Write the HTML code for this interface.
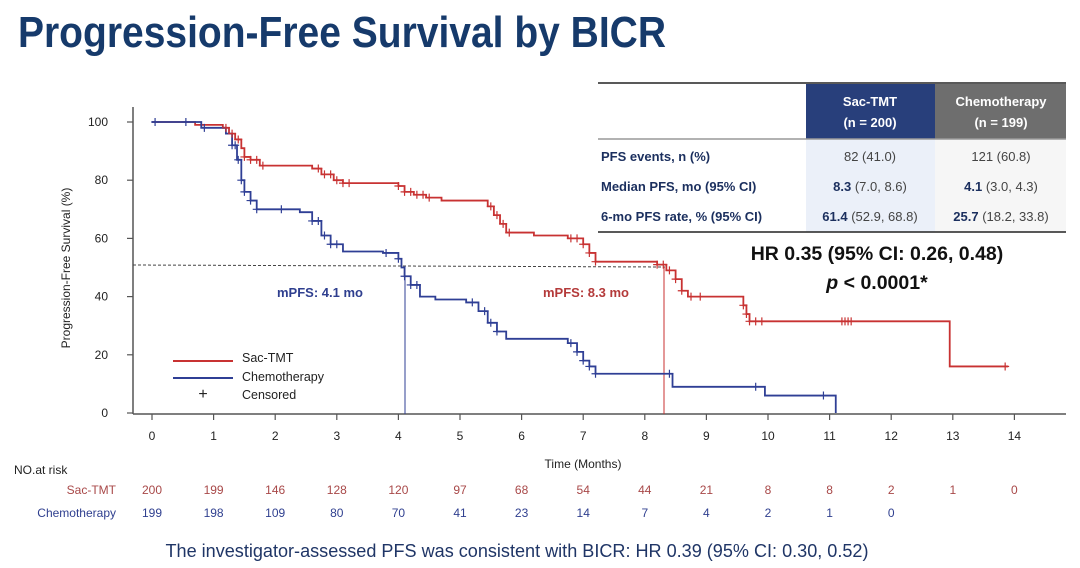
<!DOCTYPE html>
<html><head><meta charset="utf-8"><style>
body{margin:0;background:#fff;}
svg{display:block;font-family:"Liberation Sans",Arial,sans-serif;}
</style></head><body>
<svg id="s" width="1080" height="568" viewBox="0 0 1080 568">
<text x="18" y="47" font-size="44" font-weight="bold" fill="#163a6b" textLength="648" lengthAdjust="spacingAndGlyphs">Progression-Free Survival by BICR</text>

<rect x="806" y="84" width="129" height="55" fill="#283f7b"/>
<rect x="935" y="84" width="131" height="55" fill="#6e6e6e"/>
<rect x="806" y="139" width="129" height="93" fill="#ebf0f9"/>
<rect x="935" y="139" width="131" height="93" fill="#f6f6f6"/>
<line x1="598" y1="83" x2="1066" y2="83" stroke="#222" stroke-width="1.5"/>
<line x1="598" y1="139" x2="1066" y2="139" stroke="#999" stroke-width="1.5"/>
<line x1="598" y1="232" x2="1066" y2="232" stroke="#222" stroke-width="1.5"/>
<g font-size="13" font-weight="bold" fill="#fff" text-anchor="middle">
<text x="870" y="106">Sac-TMT</text><text x="870" y="127">(n = 200)</text>
<text x="1001" y="106">Chemotherapy</text><text x="1001" y="127">(n = 199)</text>
</g>
<g font-size="13" font-weight="bold" fill="#1b2f5e">
<text x="601" y="161">PFS events, n (%)</text>
<text x="601" y="191">Median PFS, mo (95% CI)</text>
<text x="601" y="221">6-mo PFS rate, %  (95% CI)</text>
</g>
<g font-size="13" fill="#444" text-anchor="middle">
<text x="870" y="161">82 (41.0)</text><text x="1001" y="161">121 (60.8)</text>
<text x="870" y="191"><tspan font-weight="bold" fill="#1b2f5e">8.3</tspan> (7.0, 8.6)</text>
<text x="1001" y="191"><tspan font-weight="bold" fill="#1b2f5e">4.1</tspan> (3.0, 4.3)</text>
<text x="870" y="221"><tspan font-weight="bold" fill="#1b2f5e">61.4</tspan> (52.9, 68.8)</text>
<text x="1001" y="221"><tspan font-weight="bold" fill="#1b2f5e">25.7</tspan> (18.2, 33.8)</text>
</g>
<g font-size="19.5" font-weight="bold" fill="#111" text-anchor="middle">
<text x="877" y="260">HR 0.35 (95% CI: 0.26, 0.48)</text>
<text x="877" y="289"><tspan font-style="italic">p</tspan> &lt; 0.0001*</text>
</g>

<g stroke="#555" stroke-width="1.5" fill="none">
<line x1="133" y1="107" x2="133" y2="414"/>
<line x1="133" y1="414" x2="1066" y2="414"/>
</g>
<g id="ticks" stroke="#555" stroke-width="1.2"></g>
<g id="tl" font-size="12" fill="#222"></g>
<text x="583" y="468" font-size="12" text-anchor="middle" fill="#222">Time (Months)</text>
<text transform="translate(70,268) rotate(-90)" font-size="12" text-anchor="middle" fill="#222">Progression-Free Survival (%)</text>

<line x1="133" y1="265" x2="665" y2="267" stroke="#444" stroke-dasharray="3,2" stroke-width="1"/>
<line x1="405" y1="266" x2="405" y2="414" stroke="#2f3f95" stroke-width="1"/>
<line x1="664" y1="267" x2="664" y2="414" stroke="#c83232" stroke-width="1"/>
<text x="277" y="297" font-size="13" font-weight="bold" fill="#2f3f8f">mPFS: 4.1 mo</text>
<text x="543" y="297" font-size="13" font-weight="bold" fill="#b43a3a">mPFS: 8.3 mo</text>

<g id="curves"></g>

<line x1="173" y1="361" x2="233" y2="361" stroke="#c83232" stroke-width="2"/>
<line x1="173" y1="378" x2="233" y2="378" stroke="#2f3f95" stroke-width="2"/>
<text x="203" y="399" font-size="16" text-anchor="middle" fill="#222">+</text>
<g font-size="12.5" fill="#222"><text x="242" y="362">Sac-TMT</text><text x="242" y="381">Chemotherapy</text><text x="242" y="399">Censored</text></g>

<text x="14" y="474" font-size="12" fill="#222">NO.at risk</text>
<text x="116" y="494" font-size="12" fill="#a84848" text-anchor="end">Sac-TMT</text>
<text x="116" y="517" font-size="12" fill="#2f3f8f" text-anchor="end">Chemotherapy</text>
<g id="risk" font-size="12" text-anchor="middle"></g>

<text x="517" y="557" font-size="18" text-anchor="middle" fill="#1f3566" textLength="703" lengthAdjust="spacingAndGlyphs">The investigator-assessed PFS was consistent with BICR: HR 0.39 (95% CI: 0.30, 0.52)</text>
</svg>
<script>
var NS="http://www.w3.org/2000/svg";
function X(t){return 152+t*61.6;} function Y(p){return 413-p*2.91;}
function el(n,a,p,txt){var e=document.createElementNS(NS,n);for(var k in a)e.setAttribute(k,a[k]);if(txt!=null)e.textContent=txt;p.appendChild(e);return e;}
var tk=document.getElementById('ticks'),tl=document.getElementById('tl');
for(var i=0;i<=14;i++){el('line',{x1:X(i),y1:414,x2:X(i),y2:420},tk);el('text',{x:X(i),y:440,'text-anchor':'middle'},tl,i);}
for(var p=0;p<=100;p+=20){el('line',{x1:127,y1:Y(p),x2:133,y2:Y(p)},tk);el('text',{x:108,y:Y(p)+4,'text-anchor':'end'},tl,p);}
var red=[[0,100],[0.7,99],[1.15,98],[1.25,96],[1.35,94],[1.45,91],[1.5,88],[1.6,87],[1.75,85],[2.6,84],[2.75,82],[2.95,80],[3.1,79],[4.0,78],[4.1,76],[4.25,75],[4.45,74],[4.7,73],[5.45,71],[5.55,68],[5.65,65],[5.75,62],[6.2,61],[6.75,60],[7.0,58],[7.1,55],[7.2,52],[8.2,51],[8.35,49],[8.5,46],[8.6,42],[8.7,40],[9.6,37],[9.65,34],[9.7,31.5],[12.95,16],[13.9,16]];
var blue=[[0,100],[0.8,98],[1.2,96],[1.3,92],[1.38,87],[1.45,80],[1.5,76],[1.6,73],[1.7,70],[2.4,69],[2.6,66],[2.75,61],[2.9,58],[3.1,55.5],[3.75,55],[4.0,53],[4.05,50],[4.1,47],[4.2,44],[4.35,40],[4.6,39],[5.1,38],[5.3,35],[5.45,31],[5.6,28],[5.75,25.5],[6.75,24],[6.9,21],[7.0,18],[7.1,16],[7.2,13.5],[8.45,9],[9.95,6],[11.1,0]];
function path(d,c){var s='M'+X(0)+','+Y(d[0][1]);for(var i=1;i<d.length;i++){s+='H'+X(d[i][0])+'V'+Y(d[i][1]);}
 el('path',{d:s,fill:'none',stroke:c,'stroke-width':1.8},document.getElementById('curves'));}
function val(d,t){var v=d[0][1];for(var i=0;i<d.length;i++)if(d[i][0]<=t)v=d[i][1];return v;}
function cens(d,ts,c){var g=document.getElementById('curves');ts.forEach(function(t){var x=X(t),y=Y(val(d,t));
 el('path',{d:'M'+(x-4)+','+y+'H'+(x+4)+'M'+x+','+(y-4)+'V'+(y+4),stroke:c,'stroke-width':1.2},g);});}
path(red,'#c83232');path(blue,'#2f3f95');
cens(red,[1.2,1.3,1.4,1.5,1.6,1.7,1.8,2.7,2.8,2.9,3.0,3.1,3.2,4.0,4.1,4.2,4.3,4.4,4.5,5.5,5.6,5.7,5.8,6.8,6.9,7.0,7.1,7.2,8.2,8.3,8.4,8.5,8.6,8.75,8.9,9.6,9.65,9.7,9.8,9.9,11.2,11.25,11.3,11.35,13.85],'#c83232');
cens(blue,[0.05,0.55,0.85,1.3,1.35,1.4,1.45,1.5,1.6,1.7,2.1,2.6,2.7,2.8,2.9,3.0,3.8,4.0,4.1,4.2,4.3,5.2,5.4,5.5,5.6,6.8,6.9,7.0,7.1,7.2,8.4,9.8,10.9],'#2f3f95');
var r1=[200,199,146,128,120,97,68,54,44,21,8,8,2,1,0],r2=[199,198,109,80,70,41,23,14,7,4,2,1,0];
var rg=document.getElementById('risk');
r1.forEach(function(v,i){el('text',{x:X(i),y:494,fill:'#a84848'},rg,v);});
r2.forEach(function(v,i){el('text',{x:X(i),y:517,fill:'#2f3f8f'},rg,v);});
</script>
</body></html>
